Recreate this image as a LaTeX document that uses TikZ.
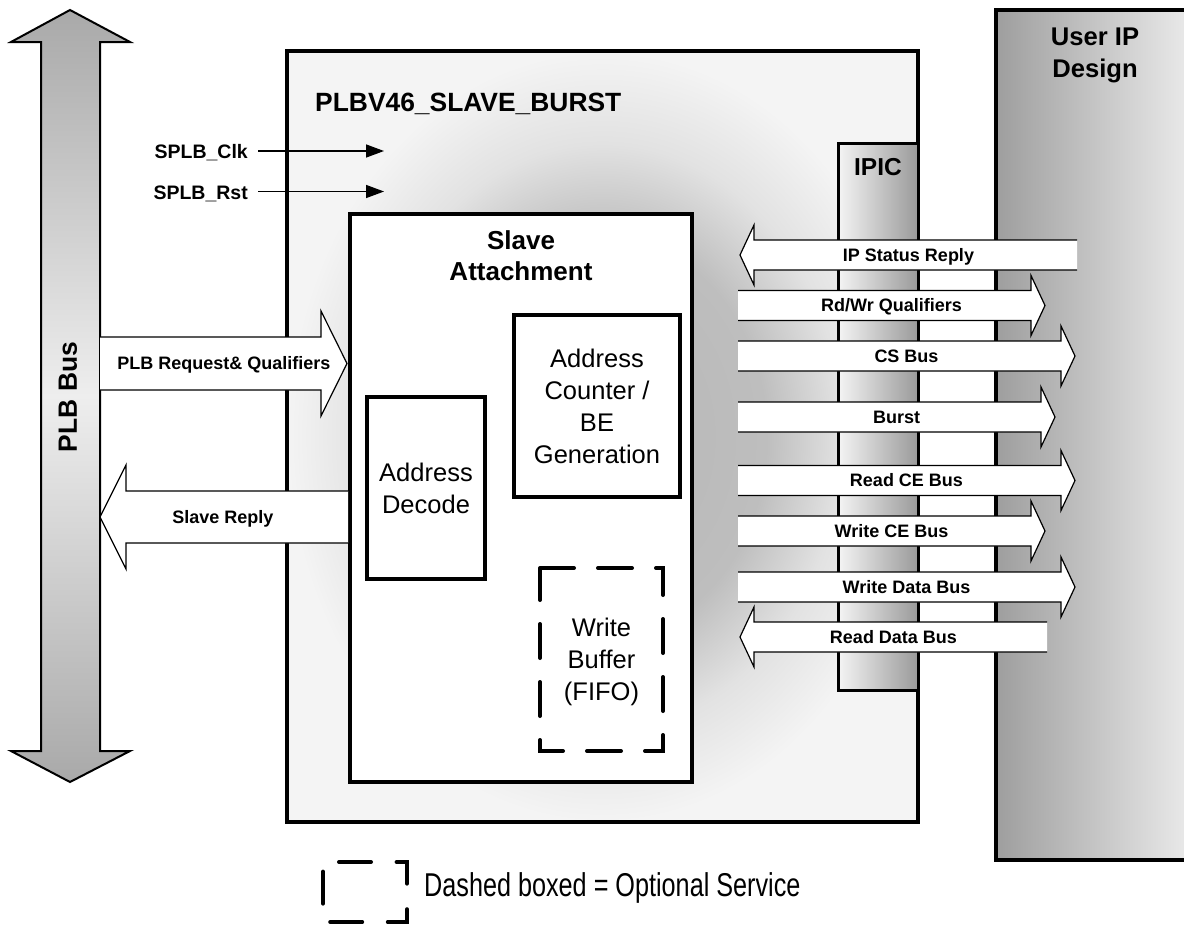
\documentclass[tikz,border=0pt]{standalone}
\usepackage{fontspec}
\setmainfont{Liberation Sans}
\usetikzlibrary{arrows.meta}
\definecolor{shA}{HTML}{B6B6B6}
\definecolor{shB}{HTML}{BEBEBE}
\definecolor{shC}{HTML}{E2E2E2}
\definecolor{shD}{HTML}{F4F4F4}
\definecolor{ipL}{HTML}{F4F4F4}
\definecolor{ipR}{HTML}{9A9A9A}
\definecolor{uL}{HTML}{9E9E9E}
\definecolor{uR}{HTML}{EEEEEE}
\definecolor{pbEnd}{HTML}{A9A9A9}
\definecolor{pbMid}{HTML}{EEEEEE}
\pgfdeclareradialshading{mainshade}{\pgfpoint{0bp}{0bp}}{color(0bp)=(shA); color(13bp)=(shB); color(19bp)=(shC); color(25bp)=(shD); color(50bp)=(shD)}
\newcommand\fs[2]{\fontsize{#1}{#2}\selectfont}
\tikzset{
  thickbox/.style={draw=black, line width=4pt, fill=white, inner sep=0pt, outer sep=0pt},
  blk/.style={fill=white, draw=black, line width=1.2pt, line join=miter},
  lbl/.style={font=\bfseries\fs{18}{21}, inner sep=0pt, anchor=base},
  boxtext/.style={font=\fs{25.5}{32}, align=center, inner sep=0pt},
  sig/.style={line width=1.5pt, -{Triangle[length=18pt,width=13pt]}},
  optdash/.style={line width=4pt, line cap=round, dash pattern=on 34pt off 24pt},
}
% right-pointing block arrow: name, y, x tail, x head base, x tip, label
\newcommand\rblk[6]{%
  \path[blk] ({#3},{#2-15}) -- ({#4},{#2-15}) -- ({#4},{#2-30}) -- ({#5},{#2}) -- ({#4},{#2+30}) -- ({#4},{#2+15}) -- ({#3},{#2+15});
  \node[lbl] (#1) at ({(#3+#5)/2},{#2+6.4}) {#6};
}
% left-pointing block arrow: name, y, x tip, x head base, x tail, label
\newcommand\lblk[6]{%
  \path[blk] ({#5},{#2-15}) -- ({#4},{#2-15}) -- ({#4},{#2-30}) -- ({#3},{#2}) -- ({#4},{#2+30}) -- ({#4},{#2+15}) -- ({#5},{#2+15});
  \node[lbl] (#1) at ({(#3+#5)/2},{#2+6.4}) {#6};
}
\begin{document}
\begin{tikzpicture}[x=1pt,y=-1pt]
\useasboundingbox (0,0) rectangle (1184,926);
\clip (0,0) rectangle (1184,926);

% main PLBV46 box
\node[draw=black, line width=4.5pt, shade, shading=mainshade, minimum width=631pt, minimum height=771pt, inner sep=0pt, outer sep=0pt] (plbv) at (602.5,436.5) {};
\node[font=\bfseries\fs{26.4}{30}, anchor=base west, inner sep=0pt] (title) at (315,111.5) {PLBV46\_SLAVE\_BURST};

% IPIC
\node[draw=black, line width=3pt, left color=ipL, right color=ipR, minimum width=80pt, minimum height=547pt, inner sep=0pt, outer sep=0pt] (ipic) at (878,416.5) {};
\node[font=\bfseries\fs{24.5}{28}, inner sep=0pt] (ipictext) at (878,167) {IPIC};

% User IP Design
\node[draw=black, line width=3.5pt, left color=uL, right color=uR, minimum width=204pt, minimum height=850pt, inner sep=0pt, outer sep=0pt] (user) at (1098,435) {};
\node[font=\bfseries\fs{25.6}{32}, align=center, inner sep=0pt] (usertext) at (1095,55.7) {User IP\\Design};

% Slave attachment and inner blocks
\node[thickbox, minimum width=342pt, minimum height=568pt] (sa) at (521,498) {};
\node[font=\bfseries\fs{26}{31}, align=center, inner sep=0pt] (satext) at (521,255.3) {Slave\\Attachment};
\node[thickbox, minimum width=166pt, minimum height=182pt, boxtext] (acnt) at (597,406) {Address\\Counter /\\BE\\Generation};
\node[thickbox, minimum width=118pt, minimum height=182pt, boxtext] (adec) at (426,488) {Address\\Decode};
\node[minimum width=123pt, minimum height=183pt, inner sep=0pt, outer sep=0pt] (wb) at (601.5,659.5) {};
\draw[optdash] (wb.north west) -- (wb.north east) -- (wb.south east) -- (wb.south west) -- cycle;
\node[boxtext, yshift=-2.7pt] (wbtext) at (wb.center) {Write\\Buffer\\(FIFO)};

% PLB Bus double arrow
\path[draw=black, line width=2pt, line join=miter, top color=pbEnd, bottom color=pbEnd, middle color=pbMid]
  (70,10) -- (130,42) -- (100,42) -- (100,751) -- (130,751) -- (70,782) -- (11,751) -- (41,751) -- (41,42) -- (11,42) -- cycle;
\node[font=\bfseries\fs{26.4}{30}, rotate=90, inner sep=0pt] (plbbus) at (68,397) {PLB Bus};

% PLB side block arrows
\path[blk] (100,337) -- (321,337) -- (321,311) -- (347,363.5) -- (321,416) -- (321,390) -- (100,390);
\node[lbl] (preq) at (224,369.9) {PLB Request\& Qualifiers};
\path[blk] (348,491) -- (126,491) -- (126,465) -- (100,517) -- (126,569) -- (126,543) -- (348,543);
\node[lbl] (srep) at (223,523.4) {Slave Reply};

% SPLB signals
\node[font=\bfseries\fs{19.5}{22}, anchor=base east, inner sep=0pt, inner xsep=10pt] (clk) at (258,158) {SPLB\_Clk};
\coordinate (clke) at (384,151);
\draw[sig] (clk.east |- clke) -- (clke);
\node[font=\bfseries\fs{19.5}{22}, anchor=base east, inner sep=0pt, inner xsep=10pt] (rst) at (258,199) {SPLB\_Rst};
\coordinate (rste) at (384,191.5);
\draw[sig] (rst.east |- rste) -- (rste);

% IPIC block arrows
\lblk{ipstat}{255}{740}{754}{1077}{IP Status Reply}
\rblk{rdwr}{305.5}{738}{1031}{1045}{Rd/Wr Qualifiers}
\rblk{csbus}{356}{738}{1061}{1075}{CS Bus}
\rblk{burst}{417}{738}{1041}{1055}{Burst}
\rblk{rdce}{480.5}{738}{1061}{1075}{Read CE Bus}
\rblk{wrce}{531}{738}{1031}{1045}{Write CE Bus}
\rblk{wrdata}{587}{738}{1061}{1075}{Write Data Bus}
\lblk{rddata}{637}{740}{754}{1047}{Read Data Bus}

% legend
\coordinate (lg1) at (323,862);
\coordinate (lg2) at (407,922);
\draw[line width=4pt, line cap=round, dash pattern=on 32pt off 25.6pt, dash phase=41.6pt] (lg1) -- (lg2 |- lg1) -- (lg2) -- (lg1 |- lg2) -- cycle;
\node[anchor=base west, inner sep=0pt, font=\fs{33}{36}] (legend) at (424,896) {\scalebox{0.764}[1]{Dashed boxed = Optional Service}};
\end{tikzpicture}
\end{document}
